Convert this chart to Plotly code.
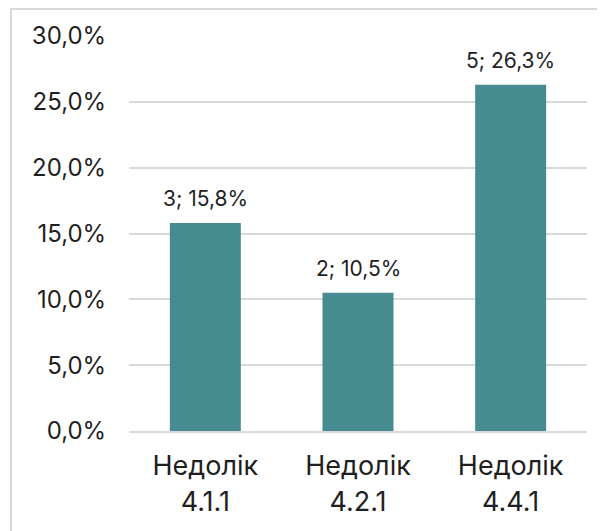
import plotly.graph_objects as go

categories = ["Недолік<br>4.1.1", "Недолік<br>4.2.1", "Недолік<br>4.4.1"]
counts = [3, 2, 5]
shares = [0.158, 0.105, 0.263]
y_ticks = [0, 0.05, 0.10, 0.15, 0.20, 0.25, 0.30]

bar_color = "#468b8f"
text_color = "#1f1f1f"
font_family = "Inter, Roboto, sans-serif"

fig = go.Figure()
fig.add_trace(
    go.Bar(
        x=categories,
        y=shares,
        marker=dict(color=bar_color, line=dict(width=0)),
        width=0.465,
    )
)

for cat, n, share in zip(categories, counts, shares):
    fig.add_annotation(
        x=cat,
        y=share,
        text=f"{n}; {share * 100:.1f}%".replace(".", ","),
        showarrow=False,
        yanchor="bottom",
        yshift=10,
        font=dict(size=21, color=text_color, family=font_family),
    )

# light frame around the chart area
fig.add_shape(
    type="rect",
    xref="paper",
    yref="paper",
    x0=-0.2576,
    x1=1.2,
    y0=-0.4,
    y1=1.0684,
    line=dict(color="#d9d9d9", width=2),
    fillcolor="rgba(0,0,0,0)",
    layer="below",
)

fig.update_layout(
    width=605,
    height=531,
    margin=dict(l=121, r=26, t=28, b=108, pad=0),
    paper_bgcolor="white",
    plot_bgcolor="white",
    separators=", ",
    showlegend=False,
    font=dict(family=font_family, color=text_color),
    xaxis=dict(
        tickfont=dict(size=27, color=text_color),
        showgrid=False,
        showline=True,
        linecolor="#d9d9d9",
        linewidth=2,
        ticks="outside",
        ticklen=10,
        tickcolor="rgba(0,0,0,0)",
    ),
    yaxis=dict(
        range=[0, 0.30],
        tickvals=y_ticks,
        tickformat=".1%",
        tickfont=dict(size=24, color=text_color),
        showgrid=True,
        gridcolor="#d9d9d9",
        gridwidth=2,
        zeroline=False,
        ticks="outside",
        ticklen=17,
        tickcolor="rgba(0,0,0,0)",
    ),
)

fig.write_html("out.html")
